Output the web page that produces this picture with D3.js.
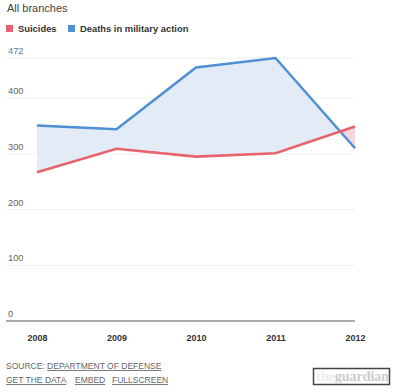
<!DOCTYPE html>
<html><head><meta charset="utf-8">
<script src="https://cdn.jsdelivr.net/npm/d3@7"></script>
<style>
body{margin:0;background:#fff;font-family:"Liberation Sans",Arial,sans-serif;}
svg{display:block;}
</style></head>
<body>
<svg id="c" width="400" height="392"></svg>
<script>
const years = ["2008","2009","2010","2011","2012"];
const suicides = [267, 309, 295, 301, 349];
const militaryDeaths = [351, 344, 455, 472, 310];
const yTicks = [0, 100, 200, 300, 400, 472];
const seriesNames = ["Suicides", "Deaths in military action"];
const colors = ["#e8636e", "#4f8fd3"];

const svg = d3.select("#c");
const x = d3.scalePoint().domain(years).range([37, 355]);
const y = d3.scaleLinear().domain([0, 472]).range([321, 58]);

svg.append("text").attr("x", 7).attr("y", 12).attr("font-size", 11).attr("fill", "#444").text("All branches");

// legend
const legendX = [6, 68];
seriesNames.forEach((n, i) => {
  const lx = legendX[i];
  svg.append("rect").attr("x", lx).attr("y", 25).attr("width", 7).attr("height", 7).attr("fill", colors[i]);
  svg.append("text").attr("x", lx + 12).attr("y", 32).attr("font-size", 9.4).attr("font-weight", "bold").attr("fill", "#333").text(n);
});

// gridlines
const grid = svg.append("g");
yTicks.forEach(v => {
  if (v > 0) grid.append("line").attr("x1", 7).attr("x2", 355).attr("y1", y(v)).attr("y2", y(v)).attr("stroke", "#efefef").attr("stroke-width", 1);
  grid.append("text").attr("x", 8).attr("y", y(v) - 4).attr("font-size", 9.3).attr("fill", v === 472 ? "#5a7a9a" : "#666").text(v);
});

const idx = years.map((d, i) => i);
const defs = svg.append("defs");
defs.append("clipPath").attr("id", "aboveRed").append("path")
  .attr("d", d3.area().x(i => x(years[i])).y0(0).y1(i => y(suicides[i]))(idx));
defs.append("clipPath").attr("id", "belowRed").append("path")
  .attr("d", d3.area().x(i => x(years[i])).y0(400).y1(i => y(suicides[i]))(idx));

const between = d3.area().x(i => x(years[i])).y0(i => y(suicides[i])).y1(i => y(militaryDeaths[i]));
svg.append("path").attr("d", between(idx)).attr("fill", "#e3ebf6").attr("clip-path", "url(#aboveRed)");
svg.append("path").attr("d", between(idx)).attr("fill", "#f7d6de").attr("clip-path", "url(#belowRed)");

const line = arr => d3.line().x(i => x(years[i])).y(i => y(arr[i]))(idx);
svg.append("path").attr("d", line(militaryDeaths)).attr("fill", "none").attr("stroke", colors[1]).attr("stroke-width", 2.5);
svg.append("path").attr("d", line(suicides)).attr("fill", "none").attr("stroke", colors[0]).attr("stroke-width", 2.6);

// baseline axis
svg.append("line").attr("x1", 6).attr("x2", 355).attr("y1", 321).attr("y2", 321).attr("stroke", "#555").attr("stroke-width", 1);

const xAxis = svg.append("g").attr("transform", "translate(0,321)")
  .call(d3.axisBottom(x).tickSize(0).tickPadding(14));
xAxis.select(".domain").remove();
xAxis.selectAll("text").attr("font-size", 9).attr("font-weight", "bold").attr("fill", "#333").attr("font-family", "Liberation Sans, Arial, sans-serif");

// footer
const f = svg.append("g").attr("font-size", 8.5).attr("fill", "#666");
const t1 = f.append("text").attr("x", 6).attr("y", 369);
t1.append("tspan").text("SOURCE: ");
t1.append("tspan").attr("text-decoration", "underline").text("DEPARTMENT OF DEFENSE");
const t2 = f.append("text").attr("x", 6).attr("y", 383).attr("text-decoration", "underline");
t2.append("tspan").text("GET THE DATA");
t2.append("tspan").attr("x", 75).text("EMBED");
t2.append("tspan").attr("x", 112).text("FULLSCREEN");

svg.append("rect").attr("x", 313.5).attr("y", 368.5).attr("width", 76).attr("height", 16).attr("fill", "#fff").attr("stroke", "#444").attr("stroke-width", 1.5);
const g = svg.append("text").attr("x", 316).attr("y", 381).attr("font-family", "Liberation Serif, serif").attr("font-size", 14).attr("font-weight", "bold");
g.append("tspan").attr("fill", "#eee").text("the");
g.append("tspan").attr("fill", "#ccc").text("guardian");
</script>
</body></html>
